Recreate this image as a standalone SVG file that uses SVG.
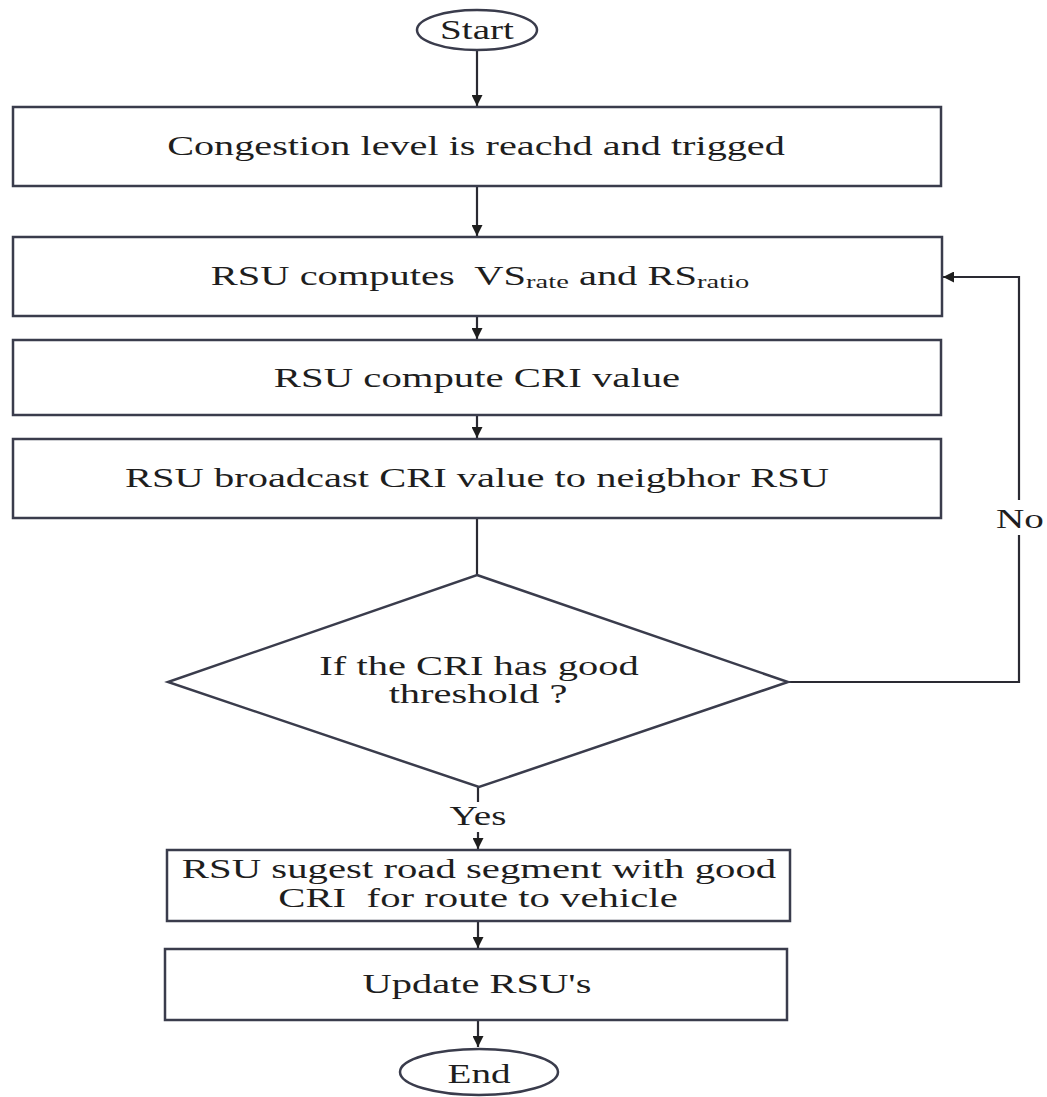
<svg xmlns="http://www.w3.org/2000/svg" width="1047" height="1097" viewBox="0 0 1047 1097">
<defs>
<style>
.box{fill:#fff;stroke:#3a3c4c;stroke-width:2.5}
.ln{fill:none;stroke:#2a2a33;stroke-width:2.2}
.t{font-family:"Liberation Serif","Times New Roman",serif;font-size:27px;fill:#1e1e1e;text-anchor:middle;white-space:pre}
.sub{font-size:19px}
</style>
<marker id="ah" viewBox="0 0 10 10" refX="10" refY="5" markerWidth="11" markerHeight="11" markerUnits="userSpaceOnUse" orient="auto">
<path d="M0,0 L10,5 L0,10 z" fill="#1e1e1e"/>
</marker>
</defs>
<rect width="1047" height="1097" fill="#fff"/>
<g id="connectors">
<line class="ln" x1="477" y1="50" x2="477" y2="106" marker-end="url(#ah)"/>
<line class="ln" x1="477" y1="186" x2="477" y2="236" marker-end="url(#ah)"/>
<line class="ln" x1="477" y1="316" x2="477" y2="339" marker-end="url(#ah)"/>
<line class="ln" x1="477" y1="415" x2="477" y2="438" marker-end="url(#ah)"/>
<line class="ln" x1="477" y1="518" x2="477" y2="575"/>
<line class="ln" x1="478" y1="787" x2="478" y2="802"/>
<line class="ln" x1="478" y1="832" x2="478" y2="849" marker-end="url(#ah)"/>
<line class="ln" x1="478" y1="921" x2="478" y2="948" marker-end="url(#ah)"/>
<line class="ln" x1="478" y1="1020" x2="478" y2="1047" marker-end="url(#ah)"/>
<polyline class="ln" points="788,682 1019,682 1019,535"/>
<polyline class="ln" points="1019,500 1019,277 943,277" marker-end="url(#ah)"/>
<text class="t" transform="translate(478,825) scale(1.45,1)">Yes</text>
<text class="t" transform="translate(1020,528) scale(1.45,1)">No</text>
</g>
<g id="start">
<ellipse class="box" cx="477" cy="30" rx="60" ry="20"/>
<text class="t" transform="translate(477,39) scale(1.45,1)">Start</text>
</g>
<g id="congestion">
<rect class="box" x="13" y="107" width="928" height="79"/>
<text class="t" transform="translate(476,155) scale(1.49,1)">Congestion level is reachd and trigged</text>
</g>
<g id="compute-rates">
<rect class="box" x="13" y="237" width="929" height="79"/>
<text class="t" transform="translate(480,285) scale(1.5,1)">RSU computes  VS<tspan class="sub" dy="3">rate</tspan><tspan dy="-3"> and RS</tspan><tspan class="sub" dy="3">ratio</tspan></text>
</g>
<g id="compute-cri">
<rect class="box" x="13" y="340" width="928" height="75"/>
<text class="t" transform="translate(477,387) scale(1.51,1)">RSU compute CRI value</text>
</g>
<g id="broadcast">
<rect class="box" x="13" y="439" width="928" height="79"/>
<text class="t" transform="translate(477,487) scale(1.5,1)">RSU broadcast CRI value to neigbhor RSU</text>
</g>
<g id="decision">
<polygon class="box" points="477,575 788,682 479,787 168,682"/>
<text class="t" transform="translate(479,675) scale(1.5,1)">If the CRI has good</text>
<text class="t" transform="translate(478,703) scale(1.5,1)">threshold ?</text>
</g>
<g id="suggest">
<rect class="box" x="167" y="850" width="623" height="71"/>
<text class="t" transform="translate(479,878) scale(1.51,1)">RSU sugest road segment with good</text>
<text class="t" transform="translate(478,907) scale(1.51,1)">CRI  for route to vehicle</text>
</g>
<g id="update">
<rect class="box" x="165" y="949" width="622" height="71"/>
<text class="t" transform="translate(477,993) scale(1.5,1)">Update RSU's</text>
</g>
<g id="end">
<ellipse class="box" cx="479" cy="1072" rx="79" ry="23"/>
<text class="t" transform="translate(479,1083) scale(1.45,1)">End</text>
</g>
</svg>
